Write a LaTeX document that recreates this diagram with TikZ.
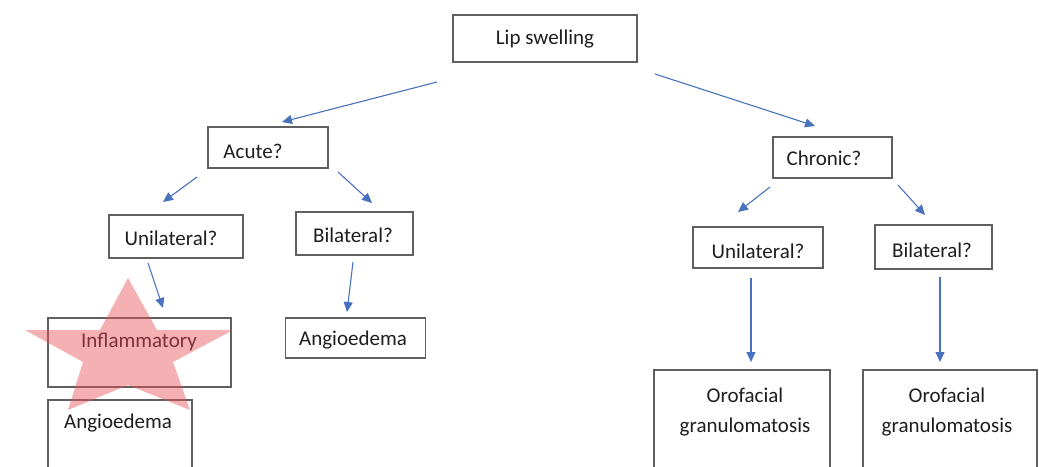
\documentclass[tikz,border=0pt]{standalone}
\usepackage{fontspec}
\setmainfont{Carlito}
\usetikzlibrary{arrows.meta}
\definecolor{boxgray}{RGB}{95,95,95}
\definecolor{txt}{RGB}{30,30,30}
\definecolor{arrblue}{RGB}{72,114,190}
\definecolor{starred}{RGB}{235,80,90}
\begin{document}
\begin{tikzpicture}[x=1pt,y=-1pt,
  box/.style={draw=boxgray, line width=1.2pt, inner sep=0pt, rectangle},
  lbl/.style={text=txt, inner sep=0pt, font=\fontsize{21}{30}\selectfont, align=center},
  arr/.style={draw=arrblue, line width=1.1pt, -{Triangle[length=10pt,width=9pt]}}]
\useasboundingbox (0,0) rectangle (1039,466);
\clip (0,0) rectangle (1039,466);
\fill[white] (0,0) rectangle (1039,466);
% boxes
\node[box, minimum width=184pt, minimum height=47pt] (lip) at (545,38.5) {};
\node[box, minimum width=120pt, minimum height=41pt] (acute) at (268,147.5) {};
\node[box, minimum width=134pt, minimum height=43pt] (uniL) at (176,236.5) {};
\node[box, minimum width=117pt, minimum height=43pt] (biL) at (354.5,233.5) {};
\node[box, minimum width=183pt, minimum height=69pt] (infl) at (139.5,352.5) {};
\node[box, minimum width=144pt, minimum height=100pt] (angL) at (120,450) {};
\node[box, minimum width=140pt, minimum height=40pt] (angM) at (355.5,338) {};
\node[box, minimum width=119pt, minimum height=41pt] (chron) at (832.5,157.5) {};
\node[box, minimum width=130pt, minimum height=41pt] (uniR) at (758,247.5) {};
\node[box, minimum width=117pt, minimum height=44pt] (biR) at (933.5,247) {};
\node[box, minimum width=176pt, minimum height=110pt] (oroL) at (742,425) {};
\node[box, minimum width=174pt, minimum height=110pt] (oroR) at (950,425) {};
% labels
\node[lbl] (tlip) at (545,39) {Lip swelling};
\node[lbl] (tacute) at (253,151) {Acute?};
\node[lbl] (tuniL) at (171,238) {Unilateral?};
\node[lbl] (tbiL) at (353,235) {Bilateral?};
\node[lbl] (tinfl) at (139,342) {Inflammatory};
\node[lbl] (tangL) at (118,423) {Angioedema};
\node[lbl] (tangM) at (353,340) {Angioedema};
\node[lbl] (tchron) at (824,158) {Chronic?};
\node[lbl] (tuniR) at (758,251) {Unilateral?};
\node[lbl] (tbiR) at (932,250) {Bilateral?};
\node[lbl] (toroL) at (745,412) {Orofacial\\granulomatosis};
\node[lbl] (toroR) at (947,412) {Orofacial\\granulomatosis};
% connector end points
\coordinate (a1s) at (437,82);  \coordinate (a1e) at (282,122);
\coordinate (a2s) at (655,74);  \coordinate (a2e) at (815,126);
\coordinate (a3s) at (197,177); \coordinate (a3e) at (163,202);
\coordinate (a4s) at (338,172); \coordinate (a4e) at (372,203);
\coordinate (a5s) at (148,263); \coordinate (a5e) at (163,308);
\coordinate (a6s) at (353,262); \coordinate (a6e) at (347,312);
\coordinate (a7s) at (770,187); \coordinate (a7e) at (738,212);
\coordinate (a8s) at (898,185); \coordinate (a8e) at (925,215);
\coordinate (a9s) at (751,278); \coordinate (a9e) at (751,362);
\coordinate (a10s) at (940,277); \coordinate (a10e) at (940,362);
\foreach \i in {1,...,10} {\draw[arr] (a\i s) -- (a\i e);}
% star
\fill[starred, fill opacity=0.45]
  (128,278) -- (157,330) -- (233,330) -- (173,362) -- (190,410)
  -- (128,385) -- (68,410) -- (83,362) -- (25,330) -- (100,330) -- cycle;
\end{tikzpicture}
\end{document}
